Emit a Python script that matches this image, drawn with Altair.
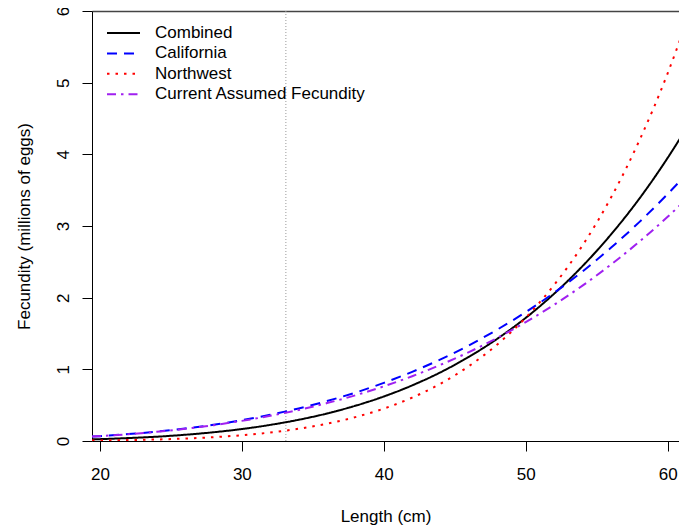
import altair as alt
import pandas as pd

# Length (cm) at which curves were read
lengths = [19.44, 20, 22, 24, 26, 28, 30, 32, 34, 36, 38, 40, 42, 44, 46, 48, 50, 52, 54, 56, 58, 60, 61.4]

# Fecundity (millions of eggs)
combined = [0.023, 0.026, 0.041, 0.060, 0.087, 0.122, 0.167, 0.225, 0.296, 0.384, 0.492, 0.621,
            0.776, 0.959, 1.175, 1.427, 1.718, 2.055, 2.44, 2.88, 3.38, 3.95, 4.39]
california = [0.062, 0.068, 0.096, 0.131, 0.174, 0.227, 0.290, 0.366, 0.454, 0.557, 0.675, 0.811,
              0.965, 1.139, 1.335, 1.555, 1.798, 2.068, 2.366, 2.695, 3.054, 3.447, 3.74]
northwest = [0.006, 0.007, 0.013, 0.021, 0.034, 0.053, 0.081, 0.119, 0.171, 0.241, 0.333, 0.452,
             0.606, 0.800, 1.045, 1.348, 1.721, 2.177, 2.728, 3.393, 4.19, 5.13, 5.89]
current = [0.062, 0.068, 0.095, 0.129, 0.170, 0.221, 0.281, 0.351, 0.433, 0.529, 0.638, 0.763,
           0.904, 1.063, 1.241, 1.439, 1.659, 1.901, 2.168, 2.461, 2.780, 3.128, 3.39]

series_names = ["Combined", "California", "Northwest", "Current Assumed Fecundity"]
series_colors = ["#000000", "#0000FF", "#FF0000", "#A020F0"]
series_dashes = [[1, 0], [10, 7], [2.5, 6], [9, 5, 2.5, 5]]

x_ticks = [20, 30, 40, 50, 60]
y_ticks = [0, 1, 2, 3, 4, 5, 6]
maturity_length = [33.1]

rows = []
for name, vals in zip(series_names, [combined, california, northwest, current]):
    for L, v in zip(lengths, vals):
        rows.append({"length": L, "fec": v, "series": name})
df = pd.DataFrame(rows)
df_rule = pd.DataFrame({"length": maturity_length})

FONT = "Liberation Sans"

xscale = alt.Scale(domain=[19.44, 60.80], nice=False, zero=False)
yscale = alt.Scale(domain=[0, 6], nice=False)

rule = alt.Chart(df_rule).mark_rule(color="#9a9a9a", strokeWidth=1, strokeDash=[1, 2]).encode(
    x=alt.X("length:Q", scale=xscale,
            axis=alt.Axis(orient="top", labels=False, ticks=False, title=None,
                          domain=True, domainColor="#444444", domainWidth=1.5))
)

lines = alt.Chart(df).mark_line(strokeWidth=2, clip=True, interpolate="monotone").encode(
    x=alt.X("length:Q", scale=xscale,
            axis=alt.Axis(orient="bottom", values=x_ticks, title="Length (cm)", labelPadding=15,
                          titleY=80, titleBaseline="alphabetic")),
    y=alt.Y("fec:Q", scale=yscale,
            axis=alt.Axis(values=y_ticks, title="Fecundity (millions of eggs)",
                          labelAngle=270, labelAlign="center", labelBaseline="alphabetic",
                          labelPadding=14, titleX=-63, titleY=215, titleAngle=270,
                          titleAlign="center", titleBaseline="alphabetic")),
    color=alt.Color("series:N", scale=alt.Scale(domain=series_names, range=series_colors),
                    legend=alt.Legend(title=None)),
    strokeDash=alt.StrokeDash("series:N", scale=alt.Scale(domain=series_names, range=series_dashes),
                              legend=alt.Legend(title=None)),
    order=alt.Order("length:Q"),
)

chart = alt.layer(rule, lines).resolve_axis(x="independent").properties(
    width=587, height=430,
    padding={"left": 84, "top": 3, "right": 0, "bottom": 86},
    autosize=alt.AutoSizeParams(type="none"),
).configure_view(
    stroke=None
).configure_axis(
    grid=False, domain=True, domainColor="#000000", domainWidth=1,
    tickColor="#000000", tickSize=10, tickWidth=1,
    labelFont=FONT, labelFontSize=17, labelColor="#000000",
    titleFont=FONT, titleFontSize=17, titleColor="#000000", titleFontWeight="normal",
).configure_legend(
    orient="none", legendX=14, legendY=13.5, padding=0,
    symbolType="stroke", symbolSize=1089, symbolStrokeWidth=2,
    labelFont=FONT, labelFontSize=17, labelColor="#000000", labelOffset=14,
    labelLimit=400, clipHeight=17, rowPadding=2.4,
)

chart.save("out.html", embed_options={"renderer": "svg", "actions": False})
